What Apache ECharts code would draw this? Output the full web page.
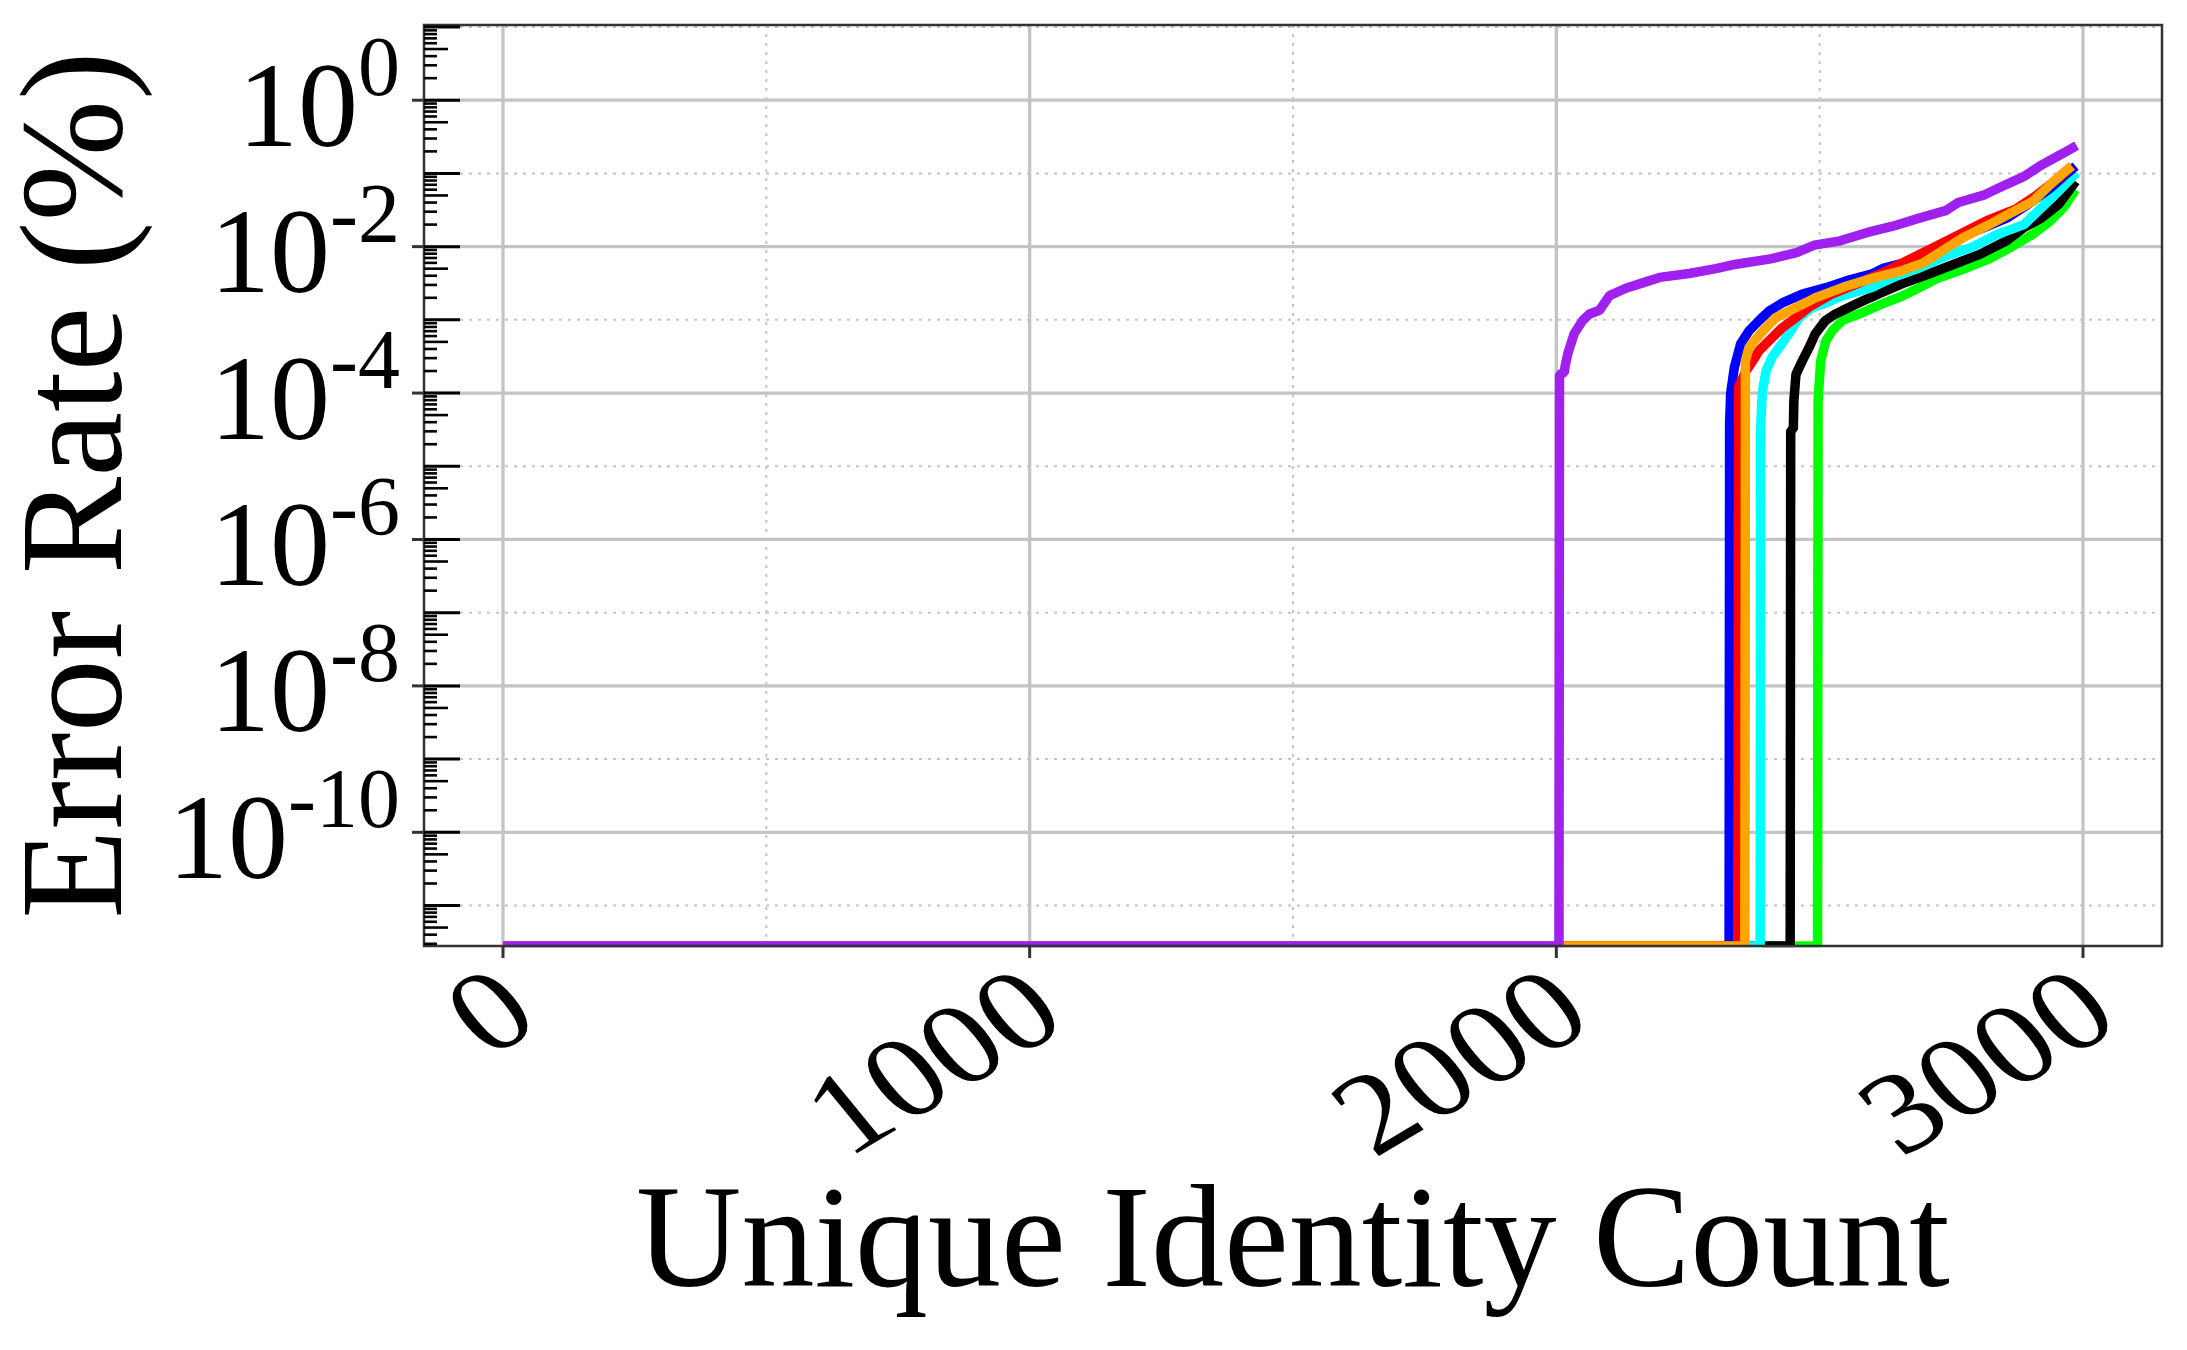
<!DOCTYPE html>
<html>
<head>
<meta charset="utf-8">
<script src="https://cdn.jsdelivr.net/npm/echarts@6/dist/echarts.min.js"></script>
<style>
  html, body { margin: 0; padding: 0; background: #fff; }
  #chart { width: 2187px; height: 1350px; }
</style>
</head>
<body>
<div id="chart"></div>
<script>
// axis ticks
const xTickVals = [0, 1000, 2000, 3000];
const xMinorVals = [500, 1500, 2500];
const yDecadeExps = [1, 0, -1, -2, -3, -4, -5, -6, -7, -8, -9, -10, -11];
const yLabelExps = [0, -2, -4, -6, -8, -10];
const yMinorMults = [2, 3, 4, 5, 6, 7, 8, 9];

const X_MIN = -150, X_MAX = 3150;
const Y_MIN = 2.8e-12, Y_MAX = 10.65;

// error rate (%) per unique identity count
const floorRate = 2.8e-12;
const greenRate = [[0, floorRate], [2496, floorRate], [2497, 7.9e-5], [2502, 2.75e-4], [2512, 5.2e-4], [2524, 7.1e-4],
  [2543, 9.8e-4], [2556, 1.07e-3], [2581, 1.25e-3], [2614, 1.6e-3], [2656, 2.1e-3], [2689, 2.75e-3], [2722, 3.63e-3],
  [2772, 4.9e-3], [2822, 6.8e-3], [2863, 9.8e-3], [2905, 1.48e-2], [2938, 2.24e-2], [2963, 3.4e-2], [2986, 6.0e-2]];
const blackRate = [[0, floorRate], [2444, floorRate], [2445, 3.1e-5], [2450, 3.2e-5], [2451, 7.9e-5], [2455, 1.8e-4],
  [2467, 2.75e-4], [2480, 4.2e-4], [2492, 6.5e-4], [2511, 9.8e-4], [2530, 1.2e-3], [2556, 1.48e-3], [2581, 1.8e-3],
  [2614, 2.3e-3], [2656, 3.1e-3], [2706, 4.2e-3], [2755, 5.75e-3], [2805, 7.9e-3],
  [2855, 1.2e-2], [2888, 1.82e-2], [2921, 2.45e-2], [2954, 3.8e-2], [2986, 7.8e-2]];
const cyanRate = [[0, floorRate], [2387, floorRate], [2388, 3.4e-5], [2391, 1.0e-4], [2398, 2.0e-4], [2410, 3.1e-4],
  [2426, 4.5e-4], [2442, 6.5e-4], [2461, 1.07e-3], [2486, 1.48e-3], [2512, 1.7e-3], [2543, 2.14e-3], [2598, 2.75e-3],
  [2639, 3.8e-3], [2689, 5.1e-3], [2739, 7.4e-3], [2789, 9.8e-3], [2838, 1.48e-2], [2888, 2.0e-2],
  [2921, 3.4e-2], [2954, 5.75e-2], [2988, 0.102]];
const blueRate = [[0, floorRate], [2328, floorRate], [2329, 3.8e-5], [2331, 1.0e-4], [2338, 2.24e-4], [2350, 4.7e-4],
  [2366, 7.1e-4], [2385, 9.8e-4], [2404, 1.32e-3], [2429, 1.7e-3], [2467, 2.24e-3], [2512, 2.75e-3],
  [2550, 3.4e-3], [2598, 4.2e-3], [2622, 5.1e-3], [2672, 6.3e-3],
  [2722, 9.1e-3], [2772, 1.41e-2], [2805, 1.74e-2], [2855, 2.45e-2], [2896, 3.8e-2], [2938, 6.3e-2],
  [2971, 0.102], [2986, 0.126]];
const redRate = [[0, floorRate], [2345, floorRate], [2346, 1.2e-4], [2360, 2.0e-4], [2373, 2.75e-4], [2385, 3.8e-4],
  [2404, 5.2e-4], [2429, 7.8e-4], [2455, 1.07e-3], [2480, 1.5e-3], [2523, 2.24e-3], [2573, 3.16e-3], [2622, 4.47e-3],
  [2672, 6.8e-3], [2722, 1.02e-2], [2772, 1.55e-2], [2822, 2.34e-2], [2872, 3.24e-2], [2913, 5.1e-2],
  [2954, 8.7e-2], [2979, 0.126]];
const orangeRate = [[0, floorRate], [2358, floorRate], [2359, 2.75e-4], [2366, 4.2e-4], [2379, 5.5e-4], [2398, 7.8e-4],
  [2417, 1.07e-3], [2442, 1.32e-3], [2467, 1.62e-3], [2492, 2.0e-3], [2524, 2.45e-3], [2550, 2.88e-3],
  [2606, 3.8e-3], [2656, 4.68e-3], [2697, 6.0e-3], [2730, 8.5e-3], [2772, 1.32e-2], [2822, 2.0e-2],
  [2863, 2.88e-2], [2905, 4.17e-2], [2938, 7.1e-2], [2963, 0.102], [2979, 0.126]];
const purpleRate = [[0, floorRate], [2005, floorRate], [2006, 1.8e-4], [2009, 1.85e-4], [2015, 1.9e-4], [2017, 2.4e-4],
  [2022, 3.5e-4], [2034, 6.5e-4], [2050, 9.8e-4], [2063, 1.2e-3], [2082, 1.35e-3], [2101, 2.14e-3], [2132, 2.7e-3],
  [2164, 3.2e-3], [2196, 3.8e-3], [2252, 4.3e-3], [2303, 5.0e-3], [2341, 5.75e-3],
  [2407, 6.8e-3], [2456, 8.3e-3], [2490, 1.05e-2], [2539, 1.2e-2], [2589, 1.55e-2], [2639, 1.9e-2],
  [2689, 2.45e-2], [2739, 3.1e-2], [2763, 4.0e-2], [2813, 5.1e-2], [2855, 7.1e-2], [2888, 9.1e-2],
  [2921, 0.13], [2963, 0.19], [2988, 0.24]];

const FONT = '"Liberation Serif", "Times New Roman", serif';
const TICK_SIZE = 120, SUP_SIZE = 84, X_LABEL_SIZE = 136, TITLE_SIZE = 146;
const X_LABEL_ROTATE = 35;
const X_LABEL_SQUASH = 0.853;   // x tick labels look sheared in the picture
const GRID_COLOR = '#c4c4c4';
const LINE_W = 9.5;

const measureCtx = document.createElement('canvas').getContext('2d');
function textWidth(txt, size) {
  measureCtx.font = size + 'px ' + FONT;
  return measureCtx.measureText(txt).width;
}

// tick data for the decoration series
const xGridData = xTickVals.map(v => [v, Y_MIN, 1]).concat(xMinorVals.map(v => [v, Y_MIN, 0]));
const yDecadeData = yDecadeExps.map(e => [X_MIN, Math.pow(10, e), e]);
const yMinorData = [];
for (let e = -12; e <= 0; e++) {
  yMinorMults.forEach(m => {
    const v = m * Math.pow(10, e);
    if (v >= Y_MIN && v <= Y_MAX) yMinorData.push([X_MIN, v, m]);
  });
}

function renderXGrid(params, api) {
  const cs = params.coordSys;
  const x = api.coord([api.value(0), Y_MIN])[0];
  const major = api.value(2) === 1;
  return {
    type: 'line',
    shape: { x1: x, y1: cs.y, x2: x, y2: cs.y + cs.height },
    style: major ? { stroke: GRID_COLOR, lineWidth: 3.3 }
                 : { stroke: GRID_COLOR, lineWidth: 2, lineDash: [3, 6] }
  };
}

function renderYGrid(params, api) {
  const cs = params.coordSys;
  const y = api.coord([X_MIN, api.value(1)])[1];
  const major = api.value(2) % 2 === 0;
  return {
    type: 'line',
    shape: { x1: cs.x, y1: y, x2: cs.x + cs.width, y2: y },
    style: major ? { stroke: GRID_COLOR, lineWidth: 3.3 }
                 : { stroke: GRID_COLOR, lineWidth: 2, lineDash: [3, 6] }
  };
}

// plot frame, drawn over the curves; the white strip hides the part of the
// floor lines that ECharts' widened clip lets through below the bottom edge
function renderFrame(params, api) {
  const cs = params.coordSys;
  const bottom = cs.y + cs.height;
  return {
    type: 'group',
    children: [
      { type: 'rect', shape: { x: cs.x - 10, y: bottom + 1.2, width: cs.width + 20, height: LINE_W }, style: { fill: '#fff' } },
      { type: 'rect', shape: { x: cs.x, y: cs.y, width: cs.width, height: cs.height }, style: { fill: null, stroke: '#333', lineWidth: 2.5 } }
    ]
  };
}

function renderXTicks(params, api) {
  const cs = params.coordSys;
  const v = api.value(0);
  const x = api.coord([v, Y_MIN])[0];
  const bottom = cs.y + cs.height;
  return {
    type: 'group',
    children: [
      { type: 'line', shape: { x1: x, y1: bottom, x2: x, y2: bottom + 12 }, style: { stroke: '#333', lineWidth: 3 } },
      {
        type: 'group', x: x + 20, y: bottom + 55, scaleY: X_LABEL_SQUASH,
        children: [{
          type: 'text', x: 0, y: 0, rotation: X_LABEL_ROTATE * Math.PI / 180,
          style: { text: String(v), fontFamily: FONT, fontSize: X_LABEL_SIZE, fill: '#000', align: 'right', verticalAlign: 'middle' }
        }]
      }
    ]
  };
}

function renderYDecade(params, api) {
  const cs = params.coordSys;
  const e = api.value(2);
  const y = api.coord([X_MIN, api.value(1)])[1];
  const left = cs.x;
  const children = [
    { type: 'line', shape: { x1: left, y1: y, x2: left + 36, y2: y }, style: { stroke: '#000', lineWidth: 3 } }
  ];
  if (yLabelExps.indexOf(e) >= 0) {
    const sup = String(e);
    const supRight = left - 24;
    const supW = textWidth(sup, SUP_SIZE);
    children.push({ type: 'line', shape: { x1: left - 12, y1: y, x2: left, y2: y }, style: { stroke: '#333', lineWidth: 3 } });
    children.push({
      type: 'text', x: supRight, y: y - 27,
      style: { text: sup, fontFamily: FONT, fontSize: SUP_SIZE, fill: '#000', align: 'right', verticalAlign: 'middle' }
    });
    children.push({
      type: 'text', x: supRight - supW, y: y + 14,
      style: { text: '10', fontFamily: FONT, fontSize: TICK_SIZE, fill: '#000', align: 'right', verticalAlign: 'middle' }
    });
  }
  return { type: 'group', children: children };
}

function renderYMinor(params, api) {
  const cs = params.coordSys;
  const y = api.coord([X_MIN, api.value(1)])[1];
  const len = api.value(2) === 5 ? 24 : 13;
  return {
    type: 'line',
    shape: { x1: cs.x, y1: y, x2: cs.x + len, y2: y },
    style: { stroke: '#000', lineWidth: 2.6 }
  };
}

function curve(name, color, data) {
  return {
    name: name, type: 'line', data: data, showSymbol: false, z: 2,
    lineStyle: { color: color, width: LINE_W },
    itemStyle: { color: color }
  };
}

const chart = echarts.init(document.getElementById('chart'));
chart.setOption({
  animation: false,
  backgroundColor: '#fff',
  grid: { left: 424, top: 25, width: 1738, height: 921, show: false },
  xAxis: {
    type: 'value', min: X_MIN, max: X_MAX,
    axisLine: { show: false }, axisTick: { show: false }, axisLabel: { show: false }, splitLine: { show: false }
  },
  yAxis: {
    type: 'log', logBase: 10, min: Y_MIN, max: Y_MAX,
    axisLine: { show: false }, axisTick: { show: false }, axisLabel: { show: false }, splitLine: { show: false }
  },
  graphic: [
    {
      type: 'text', x: 83, y: 485, rotation: Math.PI / 2,
      style: { text: 'Error Rate (%)', fontFamily: FONT, fontSize: TITLE_SIZE, fill: '#000', align: 'center', verticalAlign: 'middle' }
    },
    {
      type: 'text', x: 1293, y: 1248,
      style: { text: 'Unique Identity Count', fontFamily: FONT, fontSize: TITLE_SIZE, fill: '#000', align: 'center', verticalAlign: 'middle' }
    }
  ],
  series: [
    { type: 'custom', name: 'xgrid', silent: true, z: 1, data: xGridData, renderItem: renderXGrid, encode: { x: 0, y: 1 } },
    { type: 'custom', name: 'ygrid', silent: true, z: 1, data: yDecadeData, renderItem: renderYGrid, encode: { x: 0, y: 1 } },
    curve('green', '#00ff00', greenRate),
    curve('black', '#000000', blackRate),
    curve('cyan', '#00ffff', cyanRate),
    curve('blue', '#0000ff', blueRate),
    curve('red', '#ff0000', redRate),
    curve('orange', '#ffa500', orangeRate),
    curve('purple', '#a020f0', purpleRate),
    { type: 'custom', name: 'frame', silent: true, z: 4, data: [[X_MIN, Y_MIN]], renderItem: renderFrame, encode: { x: 0, y: 1 } },
    { type: 'custom', name: 'xticks', silent: true, z: 5, data: xTickVals.map(v => [v, Y_MIN]), renderItem: renderXTicks, encode: { x: 0, y: 1 } },
    { type: 'custom', name: 'yticks', silent: true, z: 5, data: yDecadeData, renderItem: renderYDecade, encode: { x: 0, y: 1 } },
    { type: 'custom', name: 'yminor', silent: true, z: 5, data: yMinorData, renderItem: renderYMinor, encode: { x: 0, y: 1 } }
  ]
});
</script>
</body>
</html>
